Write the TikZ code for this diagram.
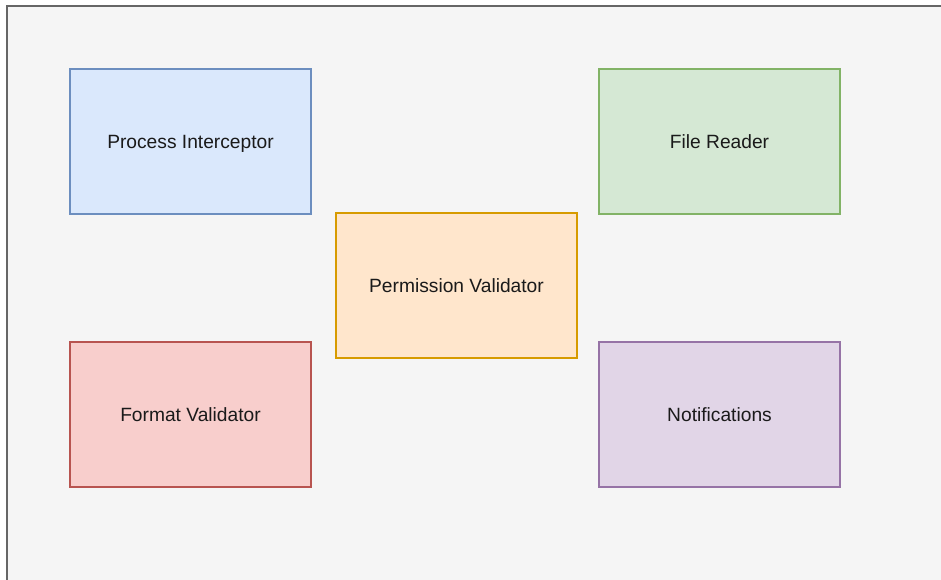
\documentclass[tikz,border=0pt]{standalone}
\usepackage{fontspec}
\setmainfont{Liberation Sans}
\definecolor{canvasfill}{HTML}{F5F5F5}
\definecolor{canvasline}{HTML}{666666}
\definecolor{bluefill}{HTML}{DAE8FC}\definecolor{blueline}{HTML}{6C8EBF}
\definecolor{greenfill}{HTML}{D5E8D4}\definecolor{greenline}{HTML}{82B366}
\definecolor{orangefill}{HTML}{FFE6CC}\definecolor{orangeline}{HTML}{D79B00}
\definecolor{redfill}{HTML}{F8CECC}\definecolor{redline}{HTML}{B85450}
\definecolor{purplefill}{HTML}{E1D5E7}\definecolor{purpleline}{HTML}{9673A6}
\definecolor{labeltext}{HTML}{1A1A1A}
% block caption, set a little below the geometric centre
\newcommand{\blocktext}[1]{\raisebox{-3.5pt}{#1}}
\begin{document}
\begin{tikzpicture}[x=1pt,y=-1pt,
  block/.style={draw, line width=1.3pt, minimum width=241pt, minimum height=145pt,
    inner sep=0pt, text height=0.72em, text depth=0pt, text=labeltext,
    font=\fontsize{19.2}{23}\selectfont},
  bluebox/.style={block, fill=bluefill, draw=blueline},
  greenbox/.style={block, fill=greenfill, draw=greenline},
  orangebox/.style={block, fill=orangefill, draw=orangeline},
  redbox/.style={block, fill=redfill, draw=redline},
  purplebox/.style={block, fill=purplefill, draw=purpleline}]
  \useasboundingbox (0,0) rectangle (941,580);
  % canvas panel
  \draw[fill=canvasfill, draw=canvasline, line width=2pt] (7,6) rectangle (960,600);
  % component blocks
  \node[bluebox]   (intercept) at (190.5,141.5) {\blocktext{Process Interceptor}};
  \node[greenbox]  (reader)    at (719.5,141.5) {\blocktext{File Reader}};
  \node[orangebox] (perm)      at (456.5,285.5) {\blocktext{Permission Validator}};
  \node[redbox]    (format)    at (190.5,414.5) {\blocktext{Format Validator}};
  \node[purplebox] (notify)    at (719.5,414.5) {\blocktext{Notifications}};
\end{tikzpicture}
\end{document}
